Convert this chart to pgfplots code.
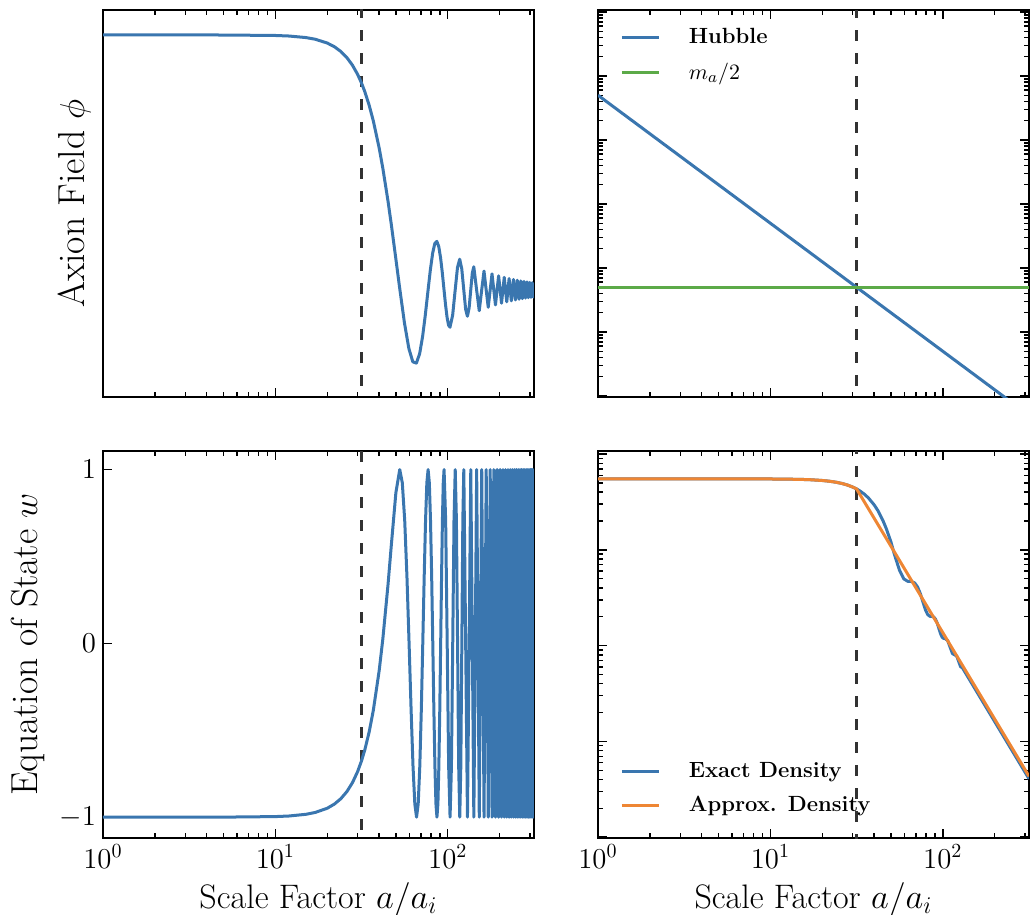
\documentclass[border=0pt]{standalone}
\usepackage{pgfplots}
\pgfplotsset{compat=1.18}
\definecolor{cblue}{RGB}{58,118,175}
\definecolor{cgreen}{RGB}{92,170,72}
\definecolor{corange}{RGB}{238,134,52}
\definecolor{cdash}{RGB}{50,50,50}

\pgfplotsset{
  myaxis/.style={
    scale only axis, width=215.5pt, height=193.5pt,
    anchor=south west,
    xmin=1, xmax=316.23,
    tick align=inside,
    major tick length=4.5pt, minor tick length=2.5pt,
    every tick/.style={black, line width=0.7pt},
    axis line style={line width=1pt},
    tick label style={font=\fontsize{14}{16}\selectfont},
    xlabel style={font=\fontsize{17}{20}\selectfont,
      at={(axis description cs:0.5,0)}, anchor=base, yshift=-35pt},
    ylabel style={font=\fontsize{18.8}{22}\selectfont, anchor=base},
    legend cell align=left,
    legend image code/.code={\draw[##1] (0pt,0pt) -- (18.5pt,0pt); \path[draw=none] (0pt,0pt) -- (31.5pt,0pt);},
  },
  mycurve/.style={line width=1.5pt, line join=round},
  myvline/.style={cdash, line width=1.2pt, dash pattern=on 5.5pt off 6pt, forget plot},
  mylegend/.style={draw=none, fill=none, font=\fontsize{11}{13}\selectfont\bfseries,
    row sep=4pt, inner sep=0pt},
}

\begin{document}
\begin{tikzpicture}
\useasboundingbox (0pt,0pt) rectangle (515pt,-457.5pt);

% top left: axion field
\begin{axis}[myaxis, xmode=log, at={(51.5pt,-198.5pt)},
  ymin=-0.42, ymax=1.098, ytick=\empty, xticklabels={},
  ylabel={Axion Field $\phi$},
  ylabel style={at={(axis description cs:-0.044,0.5)}}]
\addplot[myvline] coordinates {(31.62,-2) (31.62,2)};
\addplot[mycurve, cblue] coordinates {
(1,1) (5,0.9999) (10,0.998) (12,0.9959) (15,0.9899) (17,0.9834) (20,0.9683)
(22,0.9538) (24,0.9349) (26,0.9109) (28,0.8812) (30,0.8451) (31.62,0.8108)
(33,0.7780) (35,0.7240) (37,0.6624) (40,0.5562) (42,0.4770) (45,0.3482)
(47,0.2578) (50,0.1205) (52.43,0.0137)
(56.05,-0.1294) (59.45,-0.2297) (62.67,-0.2820) (65.73,-0.2871) (68.65,-0.2505)
(71.45,-0.1824) (74.15,-0.0955) (76.75,-0.0036) (79.27,0.0800) (81.71,0.1444)
(84.08,0.1823) (86.38,0.1905) (88.62,0.1702) (90.81,0.1264) (92.95,0.0670)
(95.04,0.0017) (97.08,-0.0597) (99.08,-0.1086) (101.05,-0.1386) (102.97,-0.1464)
(106.72,-0.0989) (110.34,-0.0010) (113.84,0.0884) (117.24,0.1205) (120.54,0.0823)
(123.76,0.0007) (126.89,-0.0752) (129.95,-0.1033) (132.94,-0.0709) (135.86,-0.0005)
(138.72,0.0659) (141.52,0.0909) (146.97,0) (152.22,-0.0815) (157.29,0)
(162.21,0.0740) (166.98,0) (171.62,-0.0680) (176.14,0) (180.54,0.0631)
(184.84,0) (189.04,-0.0589) (193.15,0) (197.17,0.0553) (204.98,-0.0521)
(212.51,0.0494) (219.78,-0.0469) (226.81,0.0448) (233.64,-0.0428) (240.27,0.0411)
(246.72,-0.0395) (253.00,0.0380) (259.14,-0.0367) (265.13,0.0354) (270.99,-0.0343)
(276.73,0.0332) (282.35,-0.0322) (287.86,0.0313) (293.26,-0.0305) (298.57,0.0297)
(303.78,-0.0289) (308.91,0.0282) (313.96,-0.0275) (316.23,-0.0265)
};
\end{axis}

% top right: Hubble and m_a/2
\begin{axis}[myaxis, xmode=log, ymode=log, at={(299pt,-198.5pt)},
  ymin=9.64e-6, ymax=10.74, xticklabels={}, yticklabels={},
  legend style={mylegend, at={(axis description cs:0.051,0.963)}, anchor=north west}]
\addplot[myvline] coordinates {(31.62,1e-7) (31.62,100)};
\addplot[mycurve, cblue] coordinates {(1,0.5) (316.23,5e-6)};
\addlegendentry{Hubble}
\addplot[mycurve, cgreen] coordinates {(1,5e-4) (316.23,5e-4)};
\addlegendentry{$m_a/2$}
\end{axis}

% bottom left: equation of state
\begin{axis}[myaxis, xmode=log, at={(51.5pt,-419pt)},
  ymin=-1.12, ymax=1.107, ytick={-1,0,1},
  xlabel={Scale Factor $a/a_i$}, ylabel={Equation of State $w$},
  ylabel style={at={(axis description cs:-0.153,0.5)}}]
\addplot[myvline] coordinates {(31.62,-2) (31.62,2)};
\addplot[mycurve, cblue] coordinates {
(1,-1) (5,-0.9999) (10,-0.9968) (12,-0.9934) (15,-0.9838) (17,-0.9732) (20,-0.9487)
(22,-0.9247) (24,-0.8932) (26,-0.8526) (28,-0.8013) (30,-0.7374) (31.62,-0.6749)
(33,-0.6135) (35,-0.5091) (37,-0.3845) (40,-0.1565) (42,0.0258) (45,0.3374)
(47,0.5613) (50,0.8681) (52.64,1) (54.47,0.9239)
(56.25,0.7071) (57.96,0.3827) (59.63,0) (61.26,-0.3827) (62.84,-0.7071) (64.38,-0.9239)
(65.89,-1) (67.36,-0.9239) (68.81,-0.7071) (70.22,-0.3827) (71.60,0) (72.96,0.3827)
(74.30,0.7071) (75.60,0.9239) (76.89,1) (78.16,0.9239) (79.40,0.7071) (80.63,0.3827)
(81.84,0) (83.03,-0.3827) (84.21,-0.7071) (85.36,-0.9239) (86.51,-1) (87.63,-0.9239)
(88.75,-0.7071) (89.85,-0.3827) (90.93,0) (92.01,0.3827) (93.07,0.7071) (94.12,0.9239)
(95.15,1) (97.19,0.7071) (99.19,0) (101.15,-0.7071) (103.08,-1) (104.97,-0.7071)
(106.82,0) (108.64,0.7071) (110.43,1) (112.20,0.7071) (113.94,0) (115.65,-0.7071)
(117.33,-1) (118.99,-0.7071) (120.63,0) (122.25,0.7071) (123.84,1) (126.98,0)
(130.03,-1) (133.02,0) (135.94,1) (138.80,0) (141.60,-1) (144.35,0) (147.04,1)
(152.29,-1) (157.36,1) (162.27,-1) (167.04,1) (171.68,-1) (176.20,1) (180.60,-1)
(184.90,1) (189.10,-1) (193.21,1) (197.23,-1) (201.17,1) (205.04,-1) (208.83,1)
(212.56,-1) (216.22,1) (219.83,-1) (223.37,1) (226.86,-1) (230.30,1) (233.68,-1)
(237.02,1) (240.31,-1) (243.56,1) (246.76,-1) (249.92,1) (253.05,-1) (256.13,1)
(259.18,-1) (262.19,1) (265.17,-1) (268.12,1) (271.03,-1) (273.91,1) (276.77,-1)
(279.59,1) (282.39,-1) (285.15,1) (287.89,-1) (290.61,1) (293.30,-1) (295.97,1)
(298.61,-1) (301.23,1) (303.82,-1) (306.40,1) (308.95,-1) (311.48,1) (313.99,-1)
(316.23,0.96)
};
\end{axis}

% bottom right: density
\begin{axis}[myaxis, xmode=log, ymode=log, at={(299pt,-419pt)},
  ymin=0.98e-4, ymax=1.075, yticklabels={},
  xlabel={Scale Factor $a/a_i$},
  legend style={mylegend, at={(axis description cs:0.051,0.0495)}, anchor=south west}]
\addplot[myvline] coordinates {(31.62,1e-6) (31.62,100)};
\addplot[mycurve, cblue] coordinates {
(1,0.55) (10,0.5487) (12,0.5473) (15,0.5434) (17,0.5391) (20,0.5292) (22,0.5199)
(24,0.5078) (26,0.4927) (28,0.4742) (30,0.4522) (31.62,0.4318) (33,0.4126)
(35,0.3820) (37,0.3486) (40,0.2943) (42,0.2570) (45,0.2013) (47,0.1666)
(50,0.1211) (52.43,0.08927) (56.05,0.06134)
(59.45,0.04962) (62.67,0.04685) (65.73,0.04669) (68.65,0.04511) (71.45,0.04084)
(74.15,0.03469) (76.75,0.02846) (79.27,0.02371) (81.71,0.02109) (84.08,0.02023)
(86.38,0.02017) (88.62,0.01988) (90.81,0.01881) (92.95,0.01702) (95.04,0.01499)
(97.08,0.01328) (99.08,0.01225) (101.05,0.01188) (102.97,0.01185) (106.72,0.01129)
(110.34,0.00958) (113.84,0.00823) (117.24,0.00801) (120.54,0.00774) (123.76,0.00679)
(126.89,0.00601) (129.95,0.00586) (150,0.003813) (200,0.001608) (250,0.0008235)
(316.23,0.0004069)
};
\addlegendentry{Exact Density}
\addplot[mycurve, corange] coordinates {
(1,0.55) (10,0.5487) (12,0.5473) (15,0.5434) (17,0.5391) (20,0.5292) (22,0.5199)
(24,0.5078) (26,0.4927) (28,0.4742) (30,0.4522) (31.62,0.4318)
(40,0.21336) (50,0.10924) (100,0.013655) (200,0.0017068) (316.23,0.0004318)
};
\addlegendentry{Approx. Density}
\end{axis}
\end{tikzpicture}
\end{document}
